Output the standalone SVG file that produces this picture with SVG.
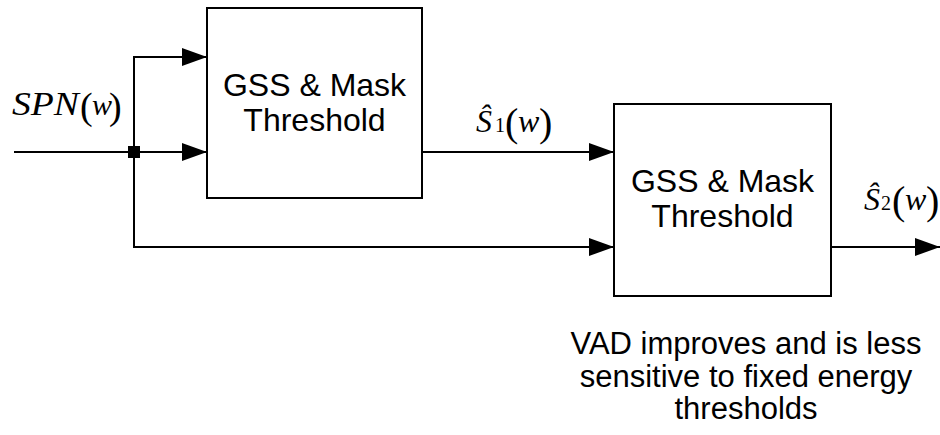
<svg xmlns="http://www.w3.org/2000/svg" width="940" height="435" viewBox="0 0 940 435">
<style>
.box{fill:#fff;stroke:#000;stroke-width:2}
.ln{fill:none;stroke:#000;stroke-width:2}
.lbl{font-family:"Liberation Sans",Arial,sans-serif;font-size:32px;fill:#000;text-anchor:middle}
.cap{font-size:31px}
.m{font-family:"Liberation Serif","Times New Roman",serif;fill:#000}
.mi{font-style:italic}
</style>
<defs>
<marker id="ah" markerUnits="userSpaceOnUse" markerWidth="26" markerHeight="18" refX="25" refY="9" orient="auto">
<path d="M0,0 L25,9 L0,18 Z" fill="#000"/>
</marker>
</defs>
<g id="connectors">
<path class="ln" d="M14,152 H207" marker-end="url(#ah)"/>
<path class="ln" d="M134,247 V57 H207" marker-end="url(#ah)"/>
<path class="ln" d="M134,152 V247 H614" marker-end="url(#ah)"/>
<path class="ln" d="M422,152 H614" marker-end="url(#ah)"/>
<path class="ln" d="M831,247 H940" marker-end="url(#ah)"/>
<rect x="128" y="146" width="12" height="12" fill="#000"/>
</g>
<g id="box1">
<rect class="box" x="207" y="8" width="215" height="190"/>
<text class="lbl" x="314.5" y="96">GSS &amp; Mask</text>
<text class="lbl" x="314.5" y="131">Threshold</text>
</g>
<g id="box2">
<rect class="box" x="614" y="104" width="217" height="192"/>
<text class="lbl" x="722.5" y="192">GSS &amp; Mask</text>
<text class="lbl" x="722.5" y="227">Threshold</text>
</g>
<g id="label-spn">
<text class="m mi" x="12" y="115" font-size="33" textLength="67" lengthAdjust="spacingAndGlyphs">SPN</text>
<text class="m" x="80" y="119" font-size="38">(</text>
<text class="m mi" x="92" y="115" font-size="30">w</text>
<text class="m" x="109" y="119" font-size="38">)</text>
</g>
<g id="label-s1">
<text class="m mi" x="476" y="132" font-size="32">S&#770;</text>
<text class="m" x="495" y="132" font-size="20">1</text>
<text class="m" x="505" y="136" font-size="40">(</text>
<text class="m mi" x="518" y="132" font-size="32">w</text>
<text class="m" x="539" y="136" font-size="40">)</text>
</g>
<g id="label-s2">
<text class="m mi" x="864" y="210" font-size="32">S&#770;</text>
<text class="m" x="881" y="210" font-size="20">2</text>
<text class="m" x="892" y="214" font-size="40">(</text>
<text class="m mi" x="905" y="210" font-size="32">w</text>
<text class="m" x="926" y="214" font-size="40">)</text>
</g>
<g id="caption">
<text class="lbl cap" x="746" y="354">VAD improves and is less</text>
<text class="lbl cap" x="746" y="387">sensitive to fixed energy</text>
<text class="lbl cap" x="746" y="419">thresholds</text>
</g>
</svg>
